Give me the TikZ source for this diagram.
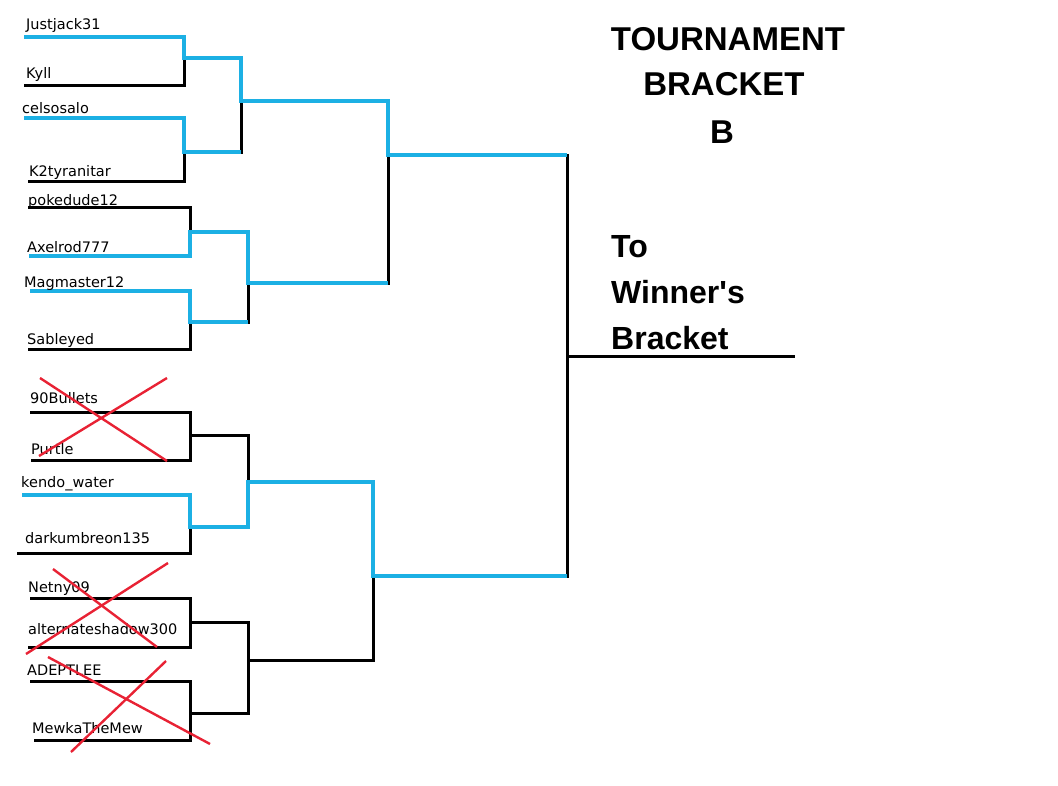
\documentclass[tikz,border=0pt]{standalone}
\usepackage{fontspec}
\newfontfamily\titlefont{Liberation Sans}
\newfontfamily\namefont{DejaVu Sans}
\definecolor{winblue}{RGB}{28,176,228}
\definecolor{xred}{RGB}{232,34,52}
\begin{document}
\begin{tikzpicture}[x=1pt,y=-1pt,
  lose/.style={black,line width=3pt,line join=miter},
  win/.style={winblue,line width=3.2pt,line join=miter},
  cross/.style={xred,line width=2.4pt},
  pname/.style={anchor=base west,inner sep=0pt,font=\namefont\fontsize{14.5}{14.5}\selectfont},
  title/.style={anchor=base,inner sep=0pt,font=\titlefont\fontsize{33}{33}\selectfont\bfseries},
  side/.style={anchor=base west,inner sep=0pt,font=\titlefont\fontsize{32}{32}\selectfont\bfseries}]
\useasboundingbox (0,0) rectangle (1058,785);
% ---- player line ends
\coordinate (s1) at (24,37);   \coordinate (e1) at (184,37);
\coordinate (s2) at (24,85);   \coordinate (e2) at (184,85);
\coordinate (s3) at (24,118);  \coordinate (e3) at (184,118);
\coordinate (s4) at (28,181);  \coordinate (e4) at (184,181);
\coordinate (s5) at (28,207);  \coordinate (e5) at (190,207);
\coordinate (s6) at (29,256);  \coordinate (e6) at (190,256);
\coordinate (s7) at (30,291);  \coordinate (e7) at (190,291);
\coordinate (s8) at (28,349);  \coordinate (e8) at (190,349);
\coordinate (s9) at (30,412);  \coordinate (e9) at (190,412);
\coordinate (s10) at (31,460); \coordinate (e10) at (190,460);
\coordinate (s11) at (22,495); \coordinate (e11) at (190,495);
\coordinate (s12) at (17,553); \coordinate (e12) at (190,553);
\coordinate (s13) at (30,598); \coordinate (e13) at (190,598);
\coordinate (s14) at (28,647); \coordinate (e14) at (190,647);
\coordinate (s15) at (30,681); \coordinate (e15) at (190,681);
\coordinate (s16) at (34,740); \coordinate (e16) at (190,740);
% ---- round 1 junctions
\coordinate (j1) at (184,58);  \coordinate (k1) at (241,58);
\coordinate (j2) at (184,152); \coordinate (k2) at (241,152);
\coordinate (j3) at (190,232); \coordinate (k3) at (248,232);
\coordinate (j4) at (190,322); \coordinate (k4) at (248,322);
\coordinate (j5) at (190,435); \coordinate (k5) at (248,435);
\coordinate (j6) at (190,527); \coordinate (k6) at (248,527);
\coordinate (j7) at (190,622); \coordinate (k7) at (248,622);
\coordinate (j8) at (190,713); \coordinate (k8) at (248,713);
% ---- round 2 junctions
\coordinate (q1) at (241,101); \coordinate (u1) at (388,101);
\coordinate (q2) at (248,283); \coordinate (u2) at (388,283);
\coordinate (q3) at (248,482); \coordinate (u3) at (373,482);
\coordinate (q4) at (248,660); \coordinate (u4) at (373,660);
% ---- round 3 junctions
\coordinate (r1) at (388,155); \coordinate (v1) at (567,155);
\coordinate (r2) at (373,576); \coordinate (v2) at (567,576);
% ---- final
\coordinate (f) at (567,356); \coordinate (g) at (795,356);

% black bracket
\draw[lose] (s1) -- (e1) -- (e2) -- (s2);
\draw[lose] (s3) -- (e3) -- (e4) -- (s4);
\draw[lose] (s5) -- (e5) -- (e6) -- (s6);
\draw[lose] (s7) -- (e7) -- (e8) -- (s8);
\draw[lose] (s9) -- (e9) -- (e10) -- (s10);
\draw[lose] (s11) -- (e11) -- (e12) -- (s12);
\draw[lose] (s13) -- (e13) -- (e14) -- (s14);
\draw[lose] (s15) -- (e15) -- (e16) -- (s16);
\draw[lose] (j1) -- (k1) -- (k2) -- (j2);
\draw[lose] (j3) -- (k3) -- (k4) -- (j4);
\draw[lose] (j5) -- (k5) -- (k6) -- (j6);
\draw[lose] (j7) -- (k7) -- (k8) -- (j8);
\draw[lose] (q1) -- (u1) -- (u2) -- (q2);
\draw[lose] (q3) -- (u3) -- (u4) -- (q4);
\draw[lose] (r1) -- (v1) -- (v2) -- (r2);
\draw[lose] (f) -- (g);

% winners' paths
\draw[win] (s1) -- (e1) -- (j1) -- (k1) -- (q1) -- (u1) -- (r1) -- (v1);
\draw[win] (s3) -- (e3) -- (j2) -- (k2);
\draw[win] (s6) -- (e6) -- (j3) -- (k3) -- (q2) -- (u2);
\draw[win] (s7) -- (e7) -- (j4) -- (k4);
\draw[win] (s11) -- (e11) -- (j6) -- (k6) -- (q3) -- (u3) -- (r2) -- (v2);

% names
\node[pname] (n1) at (26,29) {Justjack31};
\node[pname] (n2) at (26,78) {Kyll};
\node[pname] (n3) at (22,113) {celsosalo};
\node[pname] (n4) at (29,176) {K2tyranitar};
\node[pname] (n5) at (28,205) {pokedude12};
\node[pname] (n6) at (27,252) {Axelrod777};
\node[pname] (n7) at (24,287) {Magmaster12};
\node[pname] (n8) at (27,344) {Sableyed};
\node[pname] (n9) at (30,403) {90Bullets};
\node[pname] (n10) at (31,454) {Purtle};
\node[pname] (n11) at (21,487) {kendo\_water};
\node[pname] (n12) at (25,543) {darkumbreon135};
\node[pname] (n13) at (28,592) {Netny09};
\node[pname] (n14) at (28,634) {alternateshadow300};
\node[pname] (n15) at (27,675) {ADEPTLEE};
\node[pname] (n16) at (32,733) {MewkaTheMew};

% crosses
\coordinate (xa1) at (40,378);  \coordinate (xa2) at (167,461);
\coordinate (xa3) at (167,378); \coordinate (xa4) at (39,456);
\coordinate (xb1) at (53,569);  \coordinate (xb2) at (157,647);
\coordinate (xb3) at (168,563); \coordinate (xb4) at (26,654);
\coordinate (xc1) at (48,657);  \coordinate (xc2) at (210,744);
\coordinate (xc3) at (166,661); \coordinate (xc4) at (71,752);
\draw[cross] (xa1) -- (xa2); \draw[cross] (xa3) -- (xa4);
\draw[cross] (xb1) -- (xb2); \draw[cross] (xb3) -- (xb4);
\draw[cross] (xc1) -- (xc2); \draw[cross] (xc3) -- (xc4);

% titles
\node[title] (t1) at (728,50) {TOURNAMENT};
\node[title] (t2) at (724,95) {BRACKET};
\node[title] (t3) at (722,143) {B};
\node[side] (w1) at (611,257) {To};
\node[side] (w2) at (611,303) {Winner's};
\node[side] (w3) at (611,349) {Bracket};
\end{tikzpicture}
\end{document}
